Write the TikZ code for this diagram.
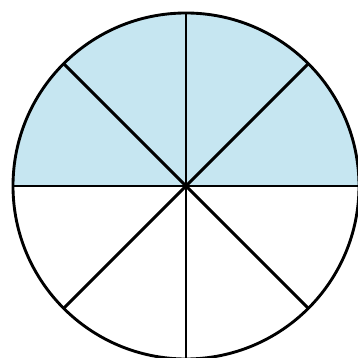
\documentclass[tikz,border=0pt]{standalone}
\usepackage{tikz}

\definecolor{shadeblue}{RGB}{198,230,241}

\begin{document}
\begin{tikzpicture}[
    x=0.01955cm, y=0.01955cm,
    rim/.style={line width=1.6pt, black},
    spoke/.style={line width=1.6pt, black},
    shaded/.style={fill=shadeblue}
]
    \useasboundingbox (0,0) rectangle (358,358);
    \coordinate (centre) at (186,172);

    % upper half filled
    \fill[shaded] (centre) ++(173,0) arc[start angle=0, end angle=180, radius=173] -- cycle;

    \foreach \a in {0,45,...,135} {
        \draw[spoke] (centre) ++(\a:173) -- ++(\a+180:346);
    }
    \draw[rim] (centre) circle[radius=173];
\end{tikzpicture}
\end{document}
